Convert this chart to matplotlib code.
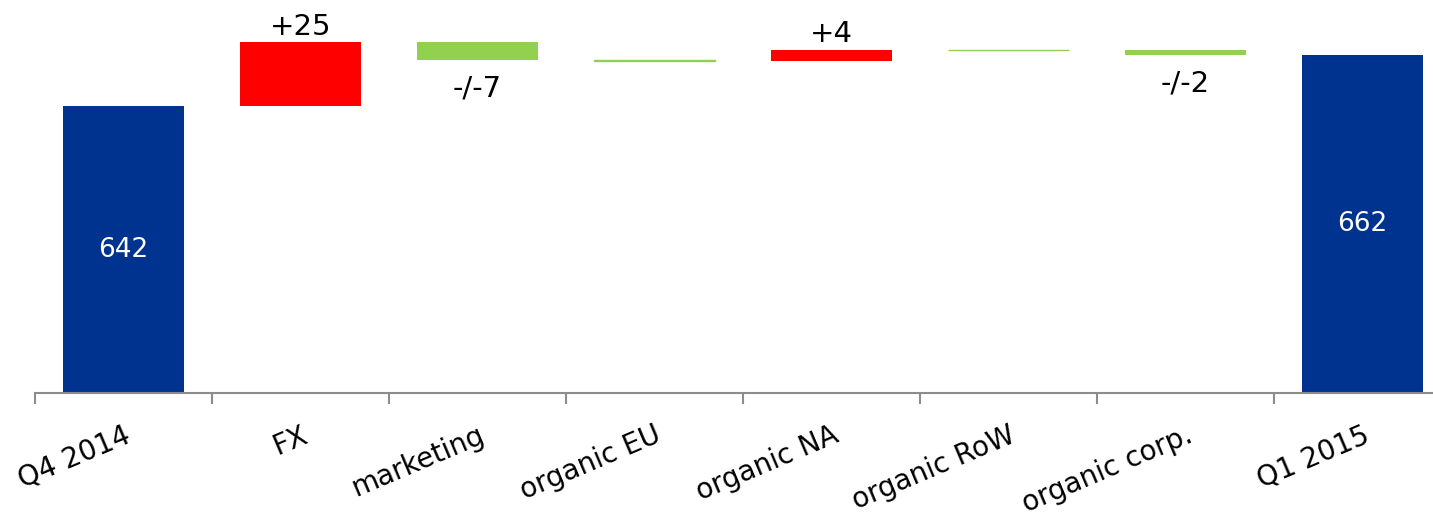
import matplotlib
matplotlib.use("Agg")
import matplotlib.pyplot as plt
import numpy as np

categories = ["Q4 2014", "FX", "marketing", "organic EU", "organic NA",
              "organic RoW", "organic corp.", "Q1 2015"]
start_value = 642
deltas = [25, -7, -0.2, 4.3, -0.1, -2]
end_value = 662
delta_labels = ["+25", "-/-7", "", "+4", "", "-/-2"]

blue = "#00338F"
red = "#FF0000"
green = "#92D050"

plt.rcParams["font.family"] = ["DejaVu Sans"]

fig = plt.figure(figsize=(14.33, 5.18), dpi=100)
ax = fig.add_axes([35 / 1433, 125 / 518, 1416 / 1433, 393 / 518])

x = np.arange(len(categories))
width = 0.68
ymin = 529.4
ymax = ymin + 393 / 2.548

# totals
ax.bar(x[0], start_value - ymin, bottom=ymin, width=width, color=blue)
ax.bar(x[-1], end_value - ymin, bottom=ymin, width=width, color=blue)
ax.text(x[0], (start_value + ymin) / 2, str(start_value), color="white",
        ha="center", va="center", fontsize=19)
ax.text(x[-1], (end_value + ymin) / 2, str(end_value), color="white",
        ha="center", va="center", fontsize=19)

# floating deltas
level = start_value
for i, d in enumerate(deltas):
    xi = x[i + 1]
    col = red if d > 0 else green
    lw = 1 if abs(d) < 0.5 else 0
    ax.bar(xi, d, bottom=level, width=width, color=col, edgecolor=col, linewidth=lw)
    lab = delta_labels[i]
    if lab:
        if d > 0:
            ax.annotate(lab, (xi, level + d), xytext=(0, 1), textcoords="offset points",
                        ha="center", va="bottom", fontsize=21)
        else:
            ax.annotate(lab, (xi, level + d), xytext=(0, -10), textcoords="offset points",
                        ha="center", va="top", fontsize=21)
    level += d

ax.set_xlim(-0.5, len(categories) - 0.5)
ax.set_ylim(ymin, ymax)

for s in ["top", "right", "left"]:
    ax.spines[s].set_visible(False)
ax.spines["bottom"].set_color("#8C8C8C")
ax.spines["bottom"].set_linewidth(1.5)
ax.set_yticks([])

ax.set_xticks(x)
ax.set_xticklabels(categories, rotation=23, ha="right", rotation_mode="anchor",
                   fontsize=20)
ax.tick_params(axis="x", which="major", length=0, pad=20)
ax.set_xticks(np.arange(len(categories) + 1) - 0.5, minor=True)
ax.tick_params(axis="x", which="minor", length=8, width=1.5, color="#8C8C8C")

fig.savefig("out.png", dpi=100)
